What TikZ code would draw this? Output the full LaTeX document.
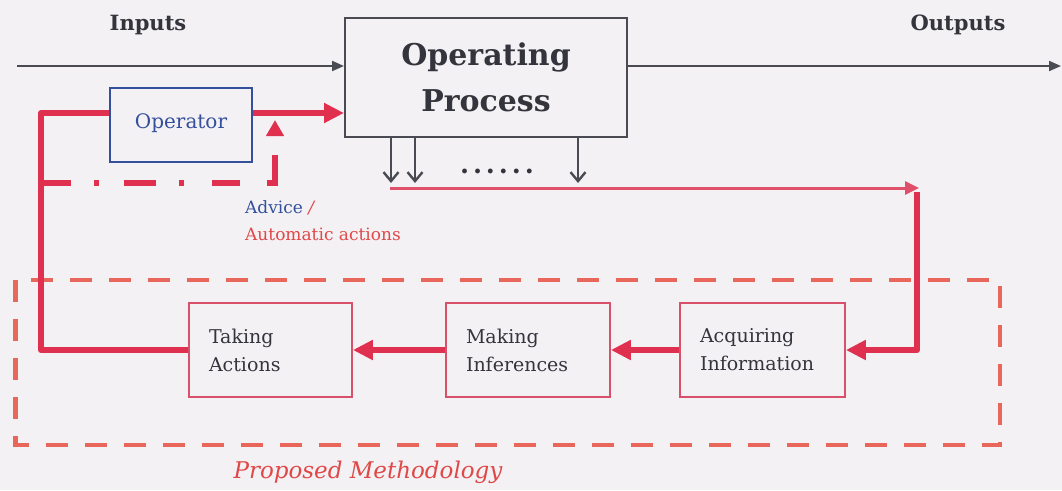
\documentclass[tikz,border=0pt]{standalone}
\usepackage{fontspec}
\setmainfont{DejaVu Serif}
\usetikzlibrary{arrows.meta}
\definecolor{bg}{HTML}{F3F1F4}
\definecolor{ink}{HTML}{34343C}
\definecolor{procline}{HTML}{4A4A52}
\definecolor{loopred}{HTML}{E0304F}
\definecolor{thinred}{HTML}{E0506A}
\definecolor{frame}{HTML}{E8675A}
\definecolor{boxred}{HTML}{D9506A}
\definecolor{opblue}{HTML}{34509C}
\definecolor{txtred}{HTML}{E04848}
\begin{document}
\begin{tikzpicture}[x=1pt,y=-1pt,
  proc/.style={draw=procline, line width=2pt, minimum width=282pt, minimum height=119pt,
    font=\fontsize{30}{46}\selectfont\bfseries, text=ink, align=center},
  opbox/.style={draw=opblue, line width=2pt, minimum width=142pt, minimum height=74pt,
    font=\fontsize{20}{24}\selectfont, text=opblue},
  stepbox/.style={draw=boxred, line width=1.8pt, minimum height=94pt, inner xsep=20pt,
    text width=#1, align=left, font=\fontsize{19}{28}\selectfont, text=ink},
  flowline/.style={draw=procline, line width=2pt},
  loop/.style={draw=loopred, line width=6pt, line join=round},
  bigtip/.style={-{Triangle[length=20pt,width=19pt]}},
  label/.style={font=\fontsize{21}{25}\selectfont\bfseries, text=ink}]

% canvas
\fill[bg] (0,0) rectangle (1062,490);

% boundary of the proposed methodology
\draw[frame, line width=4.5pt, dash pattern=on 22pt off 17pt] (15.5,280) rectangle (1000,445);
\node[font=\fontsize{23}{27}\selectfont\itshape, text=txtred] (pm) at (368,472) {Proposed Methodology};

% main process
\node[proc] (proc) at (486,77.5) {Operating\\Process};
\node[label] (in) at (148,25) {Inputs};
\node[label] (out) at (958,25) {Outputs};
\coordinate (inS) at (17,66);
\coordinate (outE) at (1061,66);
\draw[flowline, -{Triangle[length=12pt,width=10pt]}] (inS) -- (inS -| proc.west);
\draw[flowline, -{Triangle[length=12pt,width=10pt]}] (proc.east |- outE) -- (outE);

% operator
\node[opbox] (op) at (181,125) {\raisebox{8pt}{Operator}};

% inference chain
\node[stepbox=123pt] (take) at (270.5,350) {Taking\\Actions};
\node[stepbox=124pt] (make) at (528,350) {Making\\Inferences};
\node[stepbox=125pt] (acq) at (762.5,350) {Acquiring\\Information};

% measurements leaving the process
\coordinate (m1) at (391,183);
\coordinate (m2) at (415,183);
\coordinate (m3) at (578,183);
\foreach \m in {m1,m2,m3}
  \draw[flowline, line width=2.4pt, -{Straight Barb[length=9pt,width=15pt]}] (proc.south -| \m) -- (\m);
\node[font=\fontsize{26}{30}\selectfont\bfseries\addfontfeature{LetterSpace=15}, text=ink] (dots) at (497,171) {......};

% collected data to acquisition
\coordinate (c0) at (390,188);
\coordinate (c1) at (919,188);
\coordinate (c2) at (917,192);
\draw[thinred, line width=3pt, -{Triangle[length=14pt,width=13pt]}] (c0) -- (c1);
\draw[loop, bigtip] (c2) -- (c2 |- acq.east) -- (acq.east);

% chain arrows
\draw[loop, bigtip] (acq.west) -- (make.east);
\draw[loop, bigtip] (make.west) -- (take.east);

% feedback to the process through the operator
\coordinate (fb) at (41,113);
\draw[loop] (take.west) -- (fb |- take.west) -- (fb) -- (op.west |- fb);
\draw[loop, bigtip] (op.east |- fb) -- (proc.west |- fb);

% advice / automatic actions
\coordinate (a0) at (41,183);
\coordinate (a1) at (275,183);
\coordinate (a2) at (275,120);
\draw[loopred, line width=6pt, -{Triangle[length=16pt,width=17pt]},
  dash pattern=on 30pt off 23pt on 5pt off 25pt on 32pt off 23pt on 5pt off 28pt on 28pt off 27pt on 36pt off 200pt]
  (a0) -- (a1) -- (a2);
\node[anchor=north west, align=left, font=\fontsize{17}{27}\selectfont, inner sep=0pt] (adv) at (245,200)
  {\textcolor{opblue}{Advice} \textcolor{txtred}{\itshape /}\\\textcolor{txtred}{Automatic actions}};
\end{tikzpicture}
\end{document}
